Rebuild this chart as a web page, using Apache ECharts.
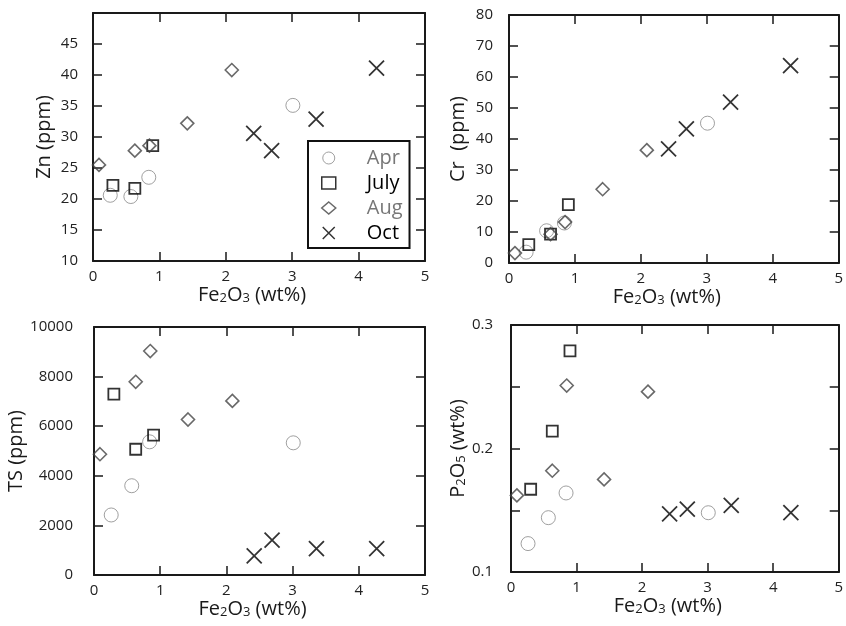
<!DOCTYPE html>
<html>
<head>
<meta charset="utf-8">
<script src="https://cdn.jsdelivr.net/npm/echarts@6/dist/echarts.min.js"></script>
<style>html,body{margin:0;padding:0;background:#fff;}#c{width:846px;height:626px;}</style>
</head>
<body>
<div id="c"></div>
<script>
// Fe2O3 (wt%) per sampling month
const feApr  = [0.26, 0.57, 0.84, 3.01];
const feJuly = [0.30, 0.63, 0.90];
const feAug  = [0.09, 0.63, 0.85, 1.42, 2.09];
const feOct  = [2.42, 2.69, 3.36, 4.27];
// Zn (ppm)
const znApr  = [20.6, 20.4, 23.5, 35.1];
const znJuly = [22.2, 21.7, 28.6];
const znAug  = [25.5, 27.8, 28.6, 32.2, 40.8];
const znOct  = [30.6, 27.8, 32.9, 41.1];
// Cr (ppm)
const crApr  = [3.5, 10.4, 12.9, 45.1];
const crJuly = [5.9, 9.3, 18.8];
const crAug  = [3.2, 9.3, 13.2, 23.8, 36.4];
const crOct  = [36.8, 43.3, 51.9, 63.7];
// TS (ppm)
const tsApr  = [2420, 3600, 5370, 5330];
const tsJuly = [7290, 5070, 5640];
const tsAug  = [4870, 7790, 9030, 6270, 7020];
const tsOct  = [770, 1410, 1060, 1060];
// P2O5 (wt%)
const pApr   = [0.123, 0.144, 0.164, 0.148];
const pJuly  = [0.167, 0.214, 0.279];
const pAug   = [0.162, 0.182, 0.251, 0.175, 0.246];
const pOct   = [0.147, 0.151, 0.154, 0.148];

const months = ['Apr', 'July', 'Aug', 'Oct'];
const feByMonth = [feApr, feJuly, feAug, feOct];
const panels = [
  {name: 'Zn (ppm)', vals: [znApr, znJuly, znAug, znOct], min: 10, max: 50, interval: 5},
  {name: 'Cr  (ppm)', vals: [crApr, crJuly, crAug, crOct], min: 0, max: 80, interval: 10},
  {name: 'TS (ppm)', vals: [tsApr, tsJuly, tsAug, tsOct], min: 0, max: 10000, interval: 2000},
  {name: '{n|P}{s|2}{n|O}{s|5}{n| (wt%)}', vals: [pApr, pJuly, pAug, pOct], min: 0.1, max: 0.3, interval: 0.05}
];
const xTitle = '{n|Fe}{s|2}{n|O}{s|3}{n| (wt%)}';

const FONT = 'Open Sans';
const grids = [
  {left: 93, top: 13, width: 332, height: 248},
  {left: 509, top: 15, width: 332, height: 248},
  {left: 94, top: 327, width: 331, height: 248},
  {left: 511, top: 325, width: 331, height: 247}
];
const yLabelMargin = [15, 16, 21, 18];
const yNameGap = [39, 41, 61, 41];

const styles = {
  Apr:  {symbol: 'circle', size: 14, itemStyle: {color: 'transparent', borderColor: '#888', borderWidth: 1}, text: '#777'},
  July: {symbol: 'rect', size: 11, itemStyle: {color: 'transparent', borderColor: '#000', borderWidth: 1.8}, text: '#000'},
  Aug:  {symbol: 'diamond', size: 13, itemStyle: {color: 'transparent', borderColor: '#444', borderWidth: 1.6}, text: '#777'},
  Oct:  {symbol: 'path://M0,0L10,10M0,10L10,0', size: 15, itemStyle: {color: 'transparent', borderColor: '#000', borderWidth: 1.8}, text: '#000'}
};

const richTitle = {
  n: {fontSize: 20, fontFamily: FONT, color: '#1a1a1a', verticalAlign: 'bottom'},
  s: {fontSize: 13, fontFamily: FONT, color: '#1a1a1a', verticalAlign: 'bottom'}
};
const lineStyle = {color: '#1a1a1a', width: 2};
const tickStyle = {color: '#1a1a1a', width: 1.5};

const xAxes = [], yAxes = [], series = [];
grids.forEach((g, i) => {
  const p = panels[i];
  xAxes.push({
    type: 'value', gridIndex: i, position: 'bottom', min: 0, max: 5, interval: 1,
    name: xTitle, nameLocation: 'middle', nameGap: 23,
    nameTextStyle: {fontSize: 20, fontFamily: FONT, color: '#1a1a1a', padding: [0, 14, 0, 0], rich: richTitle},
    axisLine: {show: true, onZero: false, lineStyle: lineStyle},
    axisTick: {show: true, inside: true, length: 9, lineStyle: tickStyle},
    axisLabel: {fontSize: 15, fontFamily: FONT, color: '#222', margin: 8},
    splitLine: {show: false}
  });
  xAxes.push({
    type: 'value', gridIndex: i, position: 'top', min: 0, max: 5, interval: 1,
    axisLine: {show: true, onZero: false, lineStyle: lineStyle},
    axisTick: {show: true, inside: true, length: 9, lineStyle: tickStyle},
    axisLabel: {show: false}, splitLine: {show: false}
  });
  yAxes.push({
    type: 'value', gridIndex: i, position: 'left', min: p.min, max: p.max, interval: p.interval,
    name: p.name, nameLocation: 'middle', nameGap: yNameGap[i],
    nameTextStyle: {fontSize: 20, fontFamily: FONT, color: '#1a1a1a', rich: richTitle},
    axisLine: {show: true, onZero: false, lineStyle: lineStyle},
    axisTick: {show: true, inside: true, length: 9, lineStyle: tickStyle},
    axisLabel: {
      fontSize: 15, fontFamily: FONT, color: '#222', margin: yLabelMargin[i],
      showMaxLabel: i !== 0,
      formatter: function (v) {
        if (i === 3) {
          return Math.abs(v * 10 - Math.round(v * 10)) < 1e-6 ? (Math.round(v * 10) / 10).toString() : '';
        }
        return String(v);
      }
    },
    splitLine: {show: false}
  });
  yAxes.push({
    type: 'value', gridIndex: i, position: 'right', min: p.min, max: p.max, interval: p.interval,
    axisLine: {show: true, onZero: false, lineStyle: lineStyle},
    axisTick: {show: true, inside: true, length: 9, lineStyle: tickStyle},
    axisLabel: {show: false}, splitLine: {show: false}
  });
  months.forEach((m, k) => {
    const st = styles[m];
    series.push({
      type: 'scatter', name: m, xAxisIndex: 2 * i, yAxisIndex: 2 * i,
      symbol: st.symbol, symbolSize: st.size, itemStyle: st.itemStyle,
      data: feByMonth[k].map((x, j) => [x, p.vals[k][j]]),
      emphasis: {disabled: true}
    });
  });
});

const chart = echarts.init(document.getElementById('c'), null, {renderer: 'canvas'});
chart.setOption({
  animation: false,
  backgroundColor: '#fff',
  grid: grids.map(g => Object.assign({containLabel: false}, g)),
  xAxis: xAxes,
  yAxis: yAxes,
  legend: {
    orient: 'vertical', left: 308, top: 141,
    padding: [7, 7, 5, 13], itemGap: 5, itemWidth: 14, itemHeight: 12,
    backgroundColor: '#fff', borderColor: '#111', borderWidth: 2,
    selectedMode: false,
    textStyle: {fontSize: 20, fontFamily: FONT, padding: [0, 0, 0, 26]},
    data: months.map(m => ({
      name: m,
      itemStyle: Object.assign({}, styles[m].itemStyle, {borderWidth: Math.min(styles[m].itemStyle.borderWidth, 1.5)}),
      textStyle: {color: styles[m].text}
    }))
  },
  series: series
});
</script>
</body>
</html>
